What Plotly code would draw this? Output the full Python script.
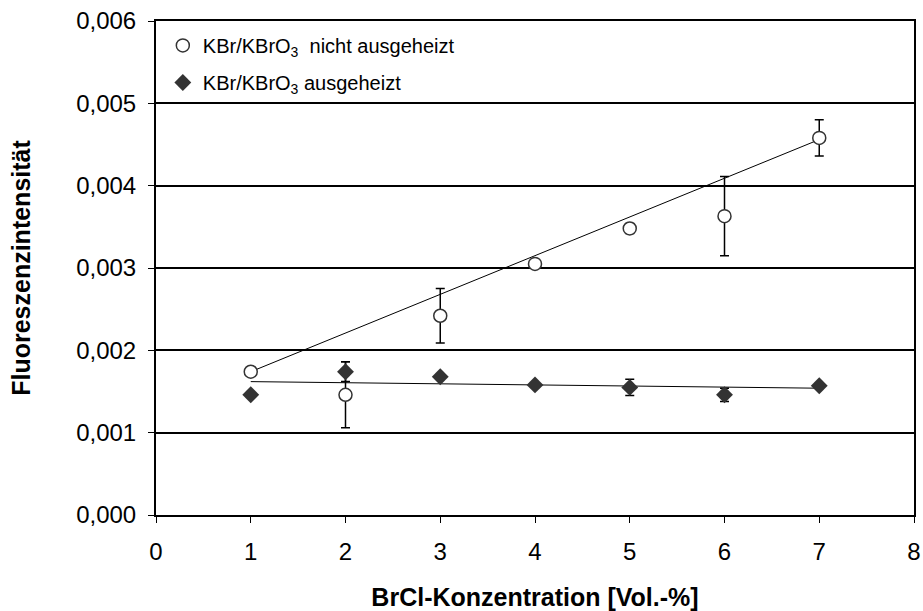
import plotly.graph_objects as go

# BrCl concentration (Vol.-%)
konz = [1, 2, 3, 4, 5, 6, 7]

# KBr/KBrO3, not baked out
nicht_ausgeheizt = [0.00174, 0.00146, 0.00242, 0.00305, 0.00348, 0.00363, 0.00458]
nicht_ausgeheizt_err = [0.0, 0.00040, 0.00033, 0.00002, 0.00006, 0.00048, 0.00022]

# KBr/KBrO3, baked out
ausgeheizt = [0.00146, 0.00174, 0.00168, 0.00158, 0.00155, 0.00146, 0.00157]
ausgeheizt_err = [0.0, 0.00012, 0.00002, 0.00002, 0.00010, 0.00008, 0.00002]

# linear trend lines (start/end values)
trend_x = [1, 7]
trend_nicht = [0.00174, 0.00456]
trend_aus = [0.00162, 0.00154]

FONT = "Liberation Sans, Arial, sans-serif"
DARK = "#333333"

fig = go.Figure()

fig.add_trace(go.Scatter(x=trend_x, y=trend_nicht, mode="lines",
                         line=dict(color="black", width=1), showlegend=False,
                         hoverinfo="skip"))
fig.add_trace(go.Scatter(x=trend_x, y=trend_aus, mode="lines",
                         line=dict(color="black", width=1), showlegend=False,
                         hoverinfo="skip"))

fig.add_trace(go.Scatter(
    x=konz, y=nicht_ausgeheizt, mode="markers",
    name="KBr/KBrO<sub>3</sub>  nicht ausgeheizt", legendgroup="a",
    marker=dict(symbol="circle", size=13, color="white",
                line=dict(color=DARK, width=1.5)),
    error_y=dict(type="data", array=nicht_ausgeheizt_err, visible=True,
                 color="black", thickness=1.5, width=4.5),
))
fig.add_trace(go.Scatter(
    x=konz, y=ausgeheizt, mode="markers",
    name="KBr/KBrO<sub>3</sub> ausgeheizt", legendgroup="b",
    marker=dict(symbol="diamond", size=13, color=DARK,
                line=dict(color=DARK, width=0)),
    error_y=dict(type="data", array=ausgeheizt_err, visible=True,
                 color="black", thickness=1.5, width=4.5),
))

fig.update_layout(
    width=923, height=611,
    margin=dict(l=156, r=9, t=21, b=96),
    paper_bgcolor="white", plot_bgcolor="white",
    separators=",.",
    font=dict(family=FONT, size=24, color="black"),
    showlegend=True,
    legend=dict(x=0.009, y=0.99, xanchor="left", yanchor="top",
                bgcolor="rgba(0,0,0,0)", borderwidth=0,
                font=dict(family=FONT, size=20, color="black"),
                itemwidth=30, tracegroupgap=8),
    xaxis=dict(
        range=[0, 8], tickvals=[0, 1, 2, 3, 4, 5, 6, 7, 8],
        showgrid=False, zeroline=False,
        showline=True, linecolor="black", linewidth=2, mirror=True,
        ticks="outside", ticklen=6, tickwidth=1, tickcolor="black",
        ticklabelstandoff=8,
        tickfont=dict(family=FONT, size=24),
        automargin=False,
        title=dict(text="<b>BrCl-Konzentration [Vol.-%]</b>",
                   font=dict(family=FONT, size=25), standoff=26),
    ),
    yaxis=dict(
        range=[0, 0.006], tickvals=[0, 0.001, 0.002, 0.003, 0.004, 0.005, 0.006],
        tickformat=".3f",
        showgrid=True, gridcolor="black", gridwidth=1.5,
        zeroline=False,
        showline=True, linecolor="black", linewidth=2, mirror=True,
        ticks="outside", ticklen=6, tickwidth=1, tickcolor="black",
        ticklabelstandoff=7,
        tickfont=dict(family=FONT, size=24),
        automargin=False,
        title=dict(text="<b>Fluoreszenzintensität</b>",
                   font=dict(family=FONT, size=25), standoff=38),
    ),
)

fig.write_html("out.html")
